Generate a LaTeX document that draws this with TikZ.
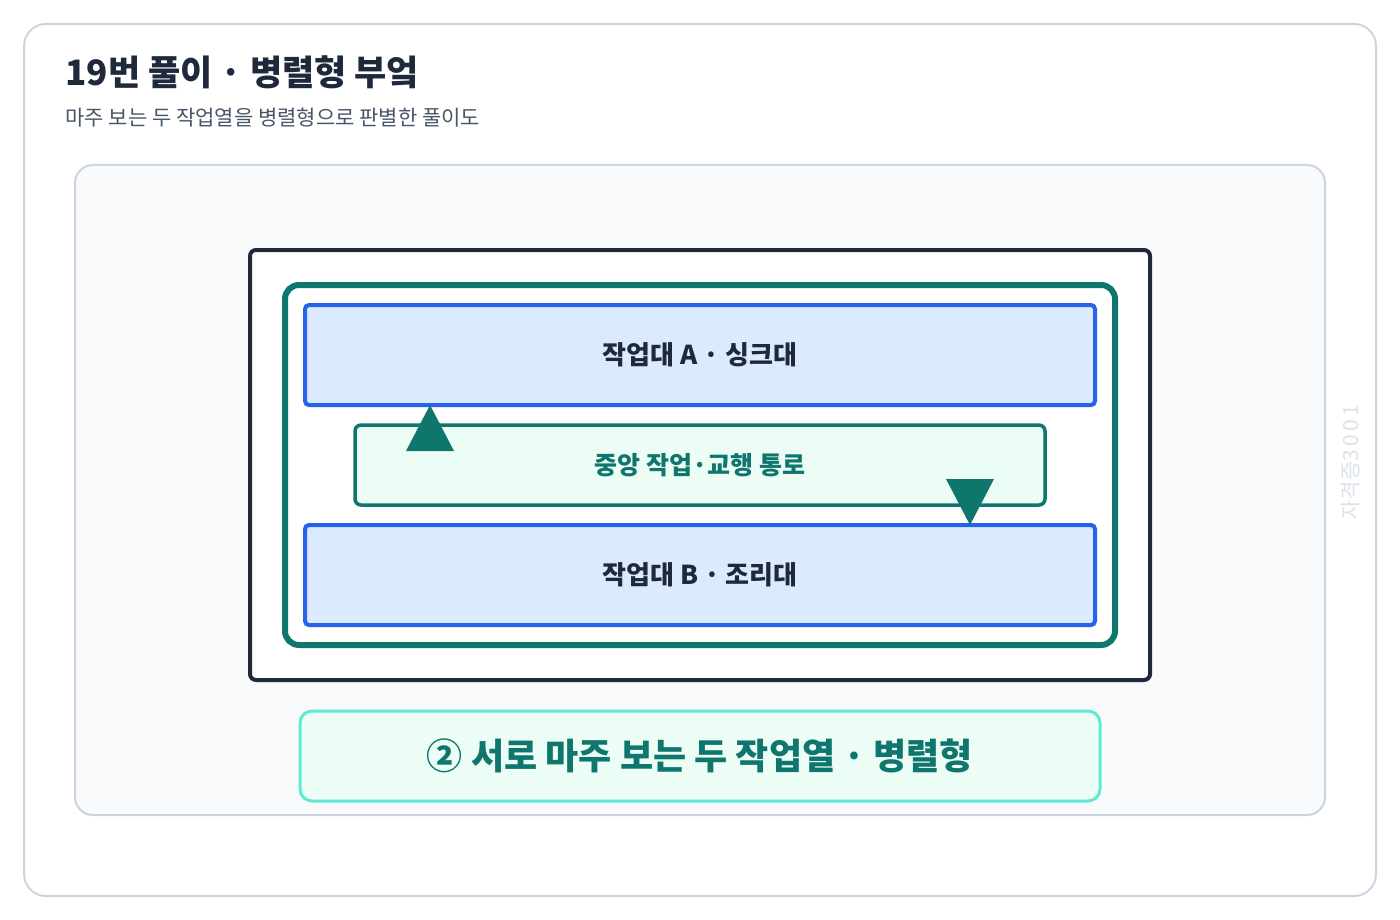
\documentclass[tikz,border=0pt]{standalone}
\usepackage{fontspec}
\setmainfont{Noto Sans CJK KR}
\usetikzlibrary{positioning}
\definecolor{frameC}{HTML}{CBD5E1}
\definecolor{panelC}{HTML}{F8FAFC}
\definecolor{darkC}{HTML}{1E293B}
\definecolor{tealC}{HTML}{0F766E}
\definecolor{blueC}{HTML}{2563EB}
\definecolor{blueF}{HTML}{DBEAFE}
\definecolor{mintF}{HTML}{ECFDF5}
\definecolor{aquaC}{HTML}{5EEAD4}
\definecolor{subC}{HTML}{475569}
\tikzset{
	bench/.style={draw=blueC,fill=blueF,line width=4pt,rounded corners=4pt,
		minimum width=790pt,minimum height=100pt,font=\bfseries\fontsize{26}{30}\selectfont,text=darkC},
	aisle/.style={draw=tealC,fill=mintF,line width=3.5pt,rounded corners=6pt,
		minimum width=690pt,minimum height=80pt,font=\bfseries\fontsize{25}{28}\selectfont,text=tealC},
	flowtip/.style={fill=tealC,draw=none}
}
\begin{document}
\begin{tikzpicture}[x=1pt,y=-1pt]
	\useasboundingbox (0,0) rectangle (1400,920);
	\fill[white] (0,0) rectangle (1400,920);
	\draw[frameC,line width=2pt,rounded corners=22pt] (24,24) rectangle (1376,896);
	\node[anchor=west,font=\bfseries\fontsize{35}{40}\selectfont,text=darkC] (title) at (62,72) {19번 풀이 · 병렬형 부엌};
	\node[anchor=west,font=\fontsize{21}{24}\selectfont,text=subC] (sub) at (62,118) {마주 보는 두 작업열을 병렬형으로 판별한 풀이도};
	\draw[frameC,fill=panelC,line width=2pt,rounded corners=18pt] (75,165) rectangle (1325,815);
	% room and work zone
	\draw[darkC,fill=white,line width=4pt,rounded corners=6pt] (250,250) rectangle (1150,680);
	\draw[tealC,line width=6pt,rounded corners=14pt] (285,285) rectangle (1115,645);
	\node[bench] (benchA) at (700,355) {작업대 A · 싱크대};
	\node[aisle] (mid) at (700,465) {중앙 작업·교행 통로};
	\node[bench] (benchB) at (700,575) {작업대 B · 조리대};
	% flow triangles
	\fill[flowtip] (430,405) -- (454,451) -- (406,451) -- cycle;
	\fill[flowtip] (946,479) -- (994,479) -- (970,525) -- cycle;
	\node[draw=aquaC,fill=mintF,line width=3pt,rounded corners=12pt,minimum width=800pt,minimum height=90pt,
		font=\bfseries\fontsize{36}{40}\selectfont,text=tealC] (answer) at (700,756) {② 서로 마주 보는 두 작업열 · 병렬형};
	\node[rotate=90,font=\fontsize{21}{24}\selectfont,text=frameC!70!white] (mark) at (1351,462) {자격증3\,0\,0\,1};
\end{tikzpicture}
\end{document}
